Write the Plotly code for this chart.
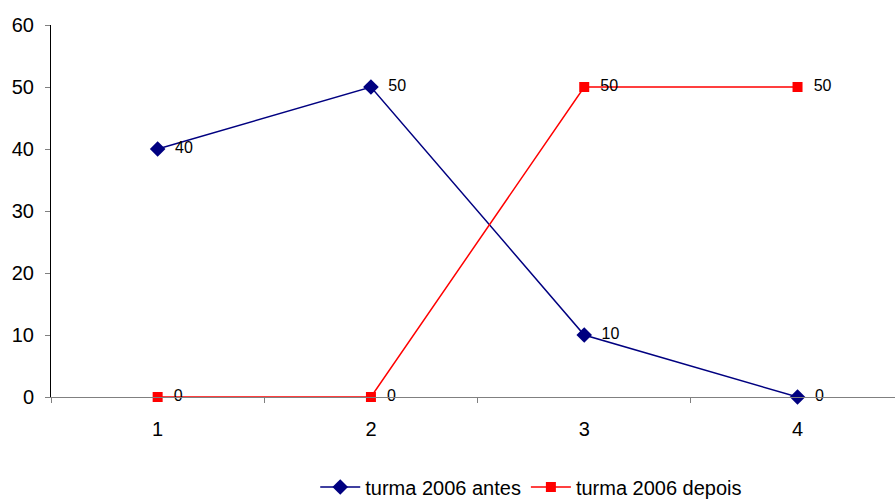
import plotly.graph_objects as go

categories = [1, 2, 3, 4]
antes = [40, 50, 10, 0]
depois = [0, 0, 50, 50]
series_names = ["turma 2006 antes", "turma 2006 depois"]

label_font = dict(family="Liberation Sans, Arial", size=16, color="black")

fig = go.Figure()
fig.add_trace(go.Scatter(
    x=categories, y=antes, name=series_names[0], mode="lines+markers+text",
    line=dict(color="#000080", width=1.5),
    marker=dict(symbol="diamond", size=12, color="#000080"),
    text=["  " + str(v) for v in antes], textposition="middle right",
    textfont=label_font,
    cliponaxis=False,
))
fig.add_trace(go.Scatter(
    x=categories, y=depois, name=series_names[1], mode="lines+markers+text",
    line=dict(color="#FF0000", width=1.5),
    marker=dict(symbol="square", size=10, color="#FF0000"),
    text=["  " + str(v) for v in depois], textposition="middle right",
    textfont=label_font,
    cliponaxis=False,
))

fig.update_layout(
    width=895, height=500,
    margin=dict(l=51, r=0, t=25, b=103, autoexpand=False),
    paper_bgcolor="white", plot_bgcolor="white",
    font=dict(family="Liberation Sans, Arial", size=20, color="black"),
    showlegend=True,
    legend=dict(orientation="h", x=0.569, xanchor="center", y=-0.242, yanchor="middle",
                font=dict(size=20), itemwidth=40),
    xaxis=dict(
        range=[0.5, 4.457], tickvals=categories, ticktext=[str(c) for c in categories],
        ticks="", showgrid=False, zeroline=False,
        showline=True, linecolor="#808080", linewidth=1,
        minor=dict(ticks="outside", tick0=0.5, dtick=1, ticklen=5, tickcolor="#808080"),
        tickfont=dict(size=20), ticklabelstandoff=14,
    ),
    yaxis=dict(
        range=[0, 60], tickvals=[0, 10, 20, 30, 40, 50, 60],
        ticks="outside", ticklen=5, tickcolor="#808080",
        showgrid=False, zeroline=False,
        showline=True, linecolor="black", linewidth=1,
        tickfont=dict(size=20), ticklabelstandoff=7,
    ),
)

fig.write_html("out.html")
